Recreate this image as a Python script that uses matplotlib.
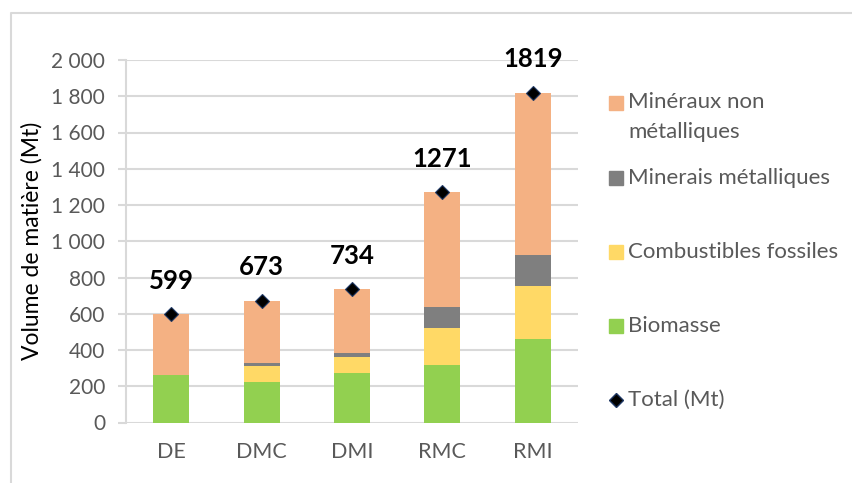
import matplotlib
matplotlib.use("Agg")
import matplotlib.pyplot as plt
from matplotlib.lines import Line2D
from matplotlib.patches import Rectangle
from matplotlib.ticker import FuncFormatter
import numpy as np

categories = ["DE", "DMC", "DMI", "RMC", "RMI"]
biomasse = [260, 223, 273, 315, 462]
combustibles = [0, 88, 86, 207, 293]
minerais_met = [0, 20, 22, 113, 168]
mineraux_non_met = [339, 342, 353, 636, 896]
totals = [599, 673, 734, 1271, 1819]

series_names = ["Minéraux non\nmétalliques", "Minerais métalliques",
                "Combustibles fossiles", "Biomasse", "Total (Mt)"]
colors = {"bio": "#92D050", "fos": "#FFD966", "met": "#7F7F7F", "min": "#F4B183"}

plt.rcParams['font.family'] = ['Lato', 'DejaVu Sans']

W, H = 852, 483
fig = plt.figure(figsize=(W / 100, H / 100), dpi=100)
ax = fig.add_axes([126 / W, 1 - 422.5 / H, (578 - 126) / W, (422.5 - 60) / H])

x = np.arange(len(categories))
bw = 0.4
b1 = np.array(biomasse)
b2 = b1 + np.array(combustibles)
b3 = b2 + np.array(minerais_met)
ax.bar(x, biomasse, bw, color=colors["bio"], zorder=3)
ax.bar(x, combustibles, bw, bottom=b1, color=colors["fos"], zorder=3)
ax.bar(x, minerais_met, bw, bottom=b2, color=colors["met"], zorder=3)
ax.bar(x, mineraux_non_met, bw, bottom=b3, color=colors["min"], zorder=3)
ax.plot(x, totals, linestyle="none", marker="D", markersize=7.5,
        markerfacecolor="black", markeredgecolor="#1F3864", markeredgewidth=0.8, zorder=4)
for xi, t in zip(x, totals):
    ax.annotate(str(t), (xi, t), xytext=(0, 24), textcoords="offset points",
                ha="center", va="center", fontsize=18.5, fontweight="bold", color="black")

ax.set_xlim(-0.5, len(categories) - 0.5)
ax.set_ylim(0, 2000)
ax.set_yticks(np.arange(0, 2001, 200))
ax.yaxis.set_major_formatter(FuncFormatter(lambda v, p: f"{int(v):,}".replace(",", " ")))
ax.set_xticks(x)
ax.set_xticklabels(categories)
ax.grid(axis="y", color="#D9D9D9", linewidth=1.5, zorder=0)
for s in ["top", "right", "bottom"]:
    ax.spines[s].set_visible(False)
ax.spines["left"].set_color("#D9D9D9")
ax.spines["left"].set_linewidth(1.5)
ax.tick_params(axis="y", length=6, width=1.5, color="#D9D9D9", pad=9,
               labelsize=15, labelcolor="#595959")
ax.tick_params(axis="x", length=0, pad=14, labelsize=15.5, labelcolor="#595959")
ax.set_ylabel("Volume de matière (Mt)", fontsize=16.5, color="black")
ax.yaxis.set_label_coords(-(126 - 43) / (578 - 126), 0.5)

# Legend (manual)
leg_items = [
    (series_names[0], colors["min"], 103),
    (series_names[1], colors["met"], 178),
    (series_names[2], colors["fos"], 252),
    (series_names[3], colors["bio"], 326),
]
for name, col, yc in leg_items:
    fig.patches.append(Rectangle((609 / W, 1 - (yc + 7) / H), 14 / W, 14 / H,
                                 transform=fig.transFigure, color=col))
    if "\n" in name:
        fig.text(628 / W, 1 - (yc - 11) / H, name, fontsize=16, color="#595959",
                 va="top", linespacing=1.6)
    else:
        fig.text(628 / W, 1 - yc / H, name, fontsize=16, color="#595959", va="center")
fig.lines.append(Line2D([616 / W], [1 - 400 / H], marker="D", markersize=7,
                        markerfacecolor="black", markeredgecolor="#1F3864",
                        transform=fig.transFigure))
fig.text(628 / W, 1 - 400 / H, series_names[4], fontsize=16, color="#595959", va="center")

# Outer frame (left and top edges visible)
fig.lines.append(Line2D([11 / W, 11 / W, 1], [0, 1 - 13 / H, 1 - 13 / H],
                        color="#D9D9D9", linewidth=1.5, transform=fig.transFigure))

fig.savefig("out.png", dpi=100)
